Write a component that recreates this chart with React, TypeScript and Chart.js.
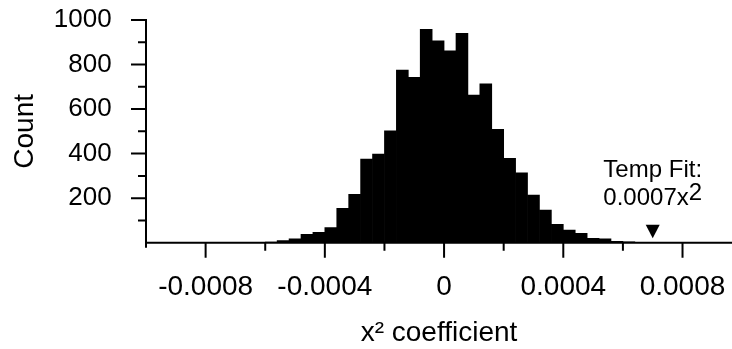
import React, { useEffect, useRef } from 'react';
import { Chart, registerables } from 'chart.js';

Chart.register(...registerables);

// Histogram bins (bin centres, bin width 0.00004) and counts
const BIN_CENTERS = [
  -0.00062, -0.00058, -0.00054, -0.0005, -0.00046, -0.00042, -0.00038, -0.00034,
  -0.0003, -0.00026, -0.00022, -0.00018, -0.00014, -0.0001, -0.00006, -0.00002,
  0.00002, 0.00006, 0.0001, 0.00014, 0.00018, 0.00022, 0.00026, 0.0003,
  0.00034, 0.00038, 0.00042, 0.00046, 0.0005, 0.00054, 0.00058, 0.00062,
  0.00066, 0.0007,
];
const COUNTS = [
  1, 3, 9, 17, 38, 47, 68, 154,
  217, 376, 398, 502, 775, 743, 958, 907,
  862, 940, 663, 713, 509, 379, 314, 214,
  147, 83, 57, 42, 20, 17, 6, 4,
  2, 1,
];

const X_MAJOR_TICKS = [-0.0008, -0.0004, 0, 0.0004, 0.0008];
const X_TICK_LABELS = ['-0.0008', '-0.0004', '0', '0.0004', '0.0008'];
const X_MINOR_TICKS = [-0.0006, -0.0002, 0.0002, 0.0006];
const Y_MAJOR_TICKS = [200, 400, 600, 800, 1000];
const Y_TICK_LABELS = ['200', '400', '600', '800', '1000'];
const Y_MINOR_TICKS = [100, 300, 500, 700, 900];

const X_TITLE = 'x\u00B2 coefficient';
const Y_TITLE = 'Count';

const FIT_VALUE = 0.0007;
const FIT_LABEL_LINE1 = 'Temp Fit:';
const FIT_LABEL_BASE = '0.0007x';
const FIT_LABEL_EXP = '2';

const FONT = '"Liberation Sans", Arial, sans-serif';

const axesPlugin = {
  id: 'refAxes',
  afterDatasetsDraw(chart: any) {
    const { ctx, chartArea: ca, scales } = chart;
    const x = scales.x;
    const y = scales.y;
    ctx.save();
    ctx.strokeStyle = '#000';
    ctx.lineWidth = 2;
    ctx.lineCap = 'butt';
    ctx.beginPath();
    // axis lines
    ctx.moveTo(ca.left, ca.top - 1);
    ctx.lineTo(ca.left, ca.bottom + 5);
    ctx.moveTo(ca.left - 1, ca.bottom);
    ctx.lineTo(ca.right, ca.bottom);
    // x ticks
    X_MAJOR_TICKS.forEach((v) => {
      const px = x.getPixelForValue(v);
      ctx.moveTo(px, ca.bottom);
      ctx.lineTo(px, ca.bottom + 15);
    });
    X_MINOR_TICKS.forEach((v) => {
      const px = x.getPixelForValue(v);
      ctx.moveTo(px, ca.bottom);
      ctx.lineTo(px, ca.bottom + 8);
    });
    // y ticks
    Y_MAJOR_TICKS.forEach((v) => {
      const py = y.getPixelForValue(v);
      ctx.moveTo(ca.left, py);
      ctx.lineTo(ca.left - 15, py);
    });
    Y_MINOR_TICKS.forEach((v) => {
      const py = y.getPixelForValue(v);
      ctx.moveTo(ca.left, py);
      ctx.lineTo(ca.left - 8, py);
    });
    ctx.stroke();

    // fit marker
    const fx = x.getPixelForValue(FIT_VALUE);
    ctx.fillStyle = '#000';
    ctx.beginPath();
    ctx.moveTo(fx - 7, ca.bottom - 18);
    ctx.lineTo(fx + 7, ca.bottom - 18);
    ctx.lineTo(fx, ca.bottom - 4.5);
    ctx.closePath();
    ctx.fill();

    // fit label
    ctx.font = `24px ${FONT}`;
    ctx.textBaseline = 'alphabetic';
    ctx.textAlign = 'center';
    ctx.fillText(FIT_LABEL_LINE1, fx, ca.bottom - 66);
    const wBase = ctx.measureText(FIT_LABEL_BASE).width;
    const wExp = ctx.measureText(FIT_LABEL_EXP).width;
    const startX = fx - (wBase + wExp) / 2;
    ctx.textAlign = 'left';
    ctx.fillText(FIT_LABEL_BASE, startX, ca.bottom - 38);
    ctx.fillText(FIT_LABEL_EXP, startX + wBase, ca.bottom - 43);
    ctx.restore();
  },
};

const zeroPadding = (s: any) => {
  s.paddingTop = 0;
  s.paddingBottom = 0;
  s.paddingLeft = 0;
  s.paddingRight = 0;
};

export default function App() {
  const canvasRef = useRef<HTMLCanvasElement | null>(null);

  useEffect(() => {
    document.body.style.margin = '0';
    const canvas = canvasRef.current;
    if (!canvas) return;
    const chart = new Chart(canvas, {
      type: 'bar',
      data: {
        datasets: [
          {
            data: BIN_CENTERS.map((c, i) => ({ x: c, y: COUNTS[i] })),
            backgroundColor: '#000',
            borderWidth: 0,
            barPercentage: 1,
            categoryPercentage: 1,
          },
        ],
      },
      options: {
        responsive: false,
        animation: false,
        layout: { padding: { top: 20, left: 0, right: 0, bottom: 0 } },
        plugins: {
          legend: { display: false },
          tooltip: { enabled: false },
        },
        scales: {
          x: {
            type: 'linear',
            min: -0.001,
            max: 0.000966,
            offset: false,
            grid: { display: false, drawTicks: false },
            border: { display: false },
            afterBuildTicks: (s: any) => {
              s.ticks = X_MAJOR_TICKS.map((v) => ({ value: v }));
            },
            afterFit: (s: any) => {
              s.height = 106.3;
              zeroPadding(s);
            },
            ticks: {
              padding: 28,
              color: '#000',
              autoSkip: false,
              maxRotation: 0,
              font: { family: FONT, size: 28 },
              callback: (_v: any, i: number) => X_TICK_LABELS[i],
            },
            title: {
              display: true,
              text: X_TITLE,
              color: '#000',
              padding: 0,
              font: { family: FONT, size: 28, lineHeight: 1.1 },
            },
          },
          y: {
            min: 0,
            max: 1000,
            grid: { display: false, drawTicks: false },
            border: { display: false },
            afterBuildTicks: (s: any) => {
              s.ticks = Y_MAJOR_TICKS.map((v) => ({ value: v }));
            },
            afterFit: (s: any) => {
              s.width = 146;
              zeroPadding(s);
            },
            ticks: {
              padding: 34.3,
              color: '#000',
              autoSkip: false,
              font: { family: FONT, size: 26 },
              callback: (_v: any, i: number) => Y_TICK_LABELS[i],
            },
            title: {
              display: true,
              text: Y_TITLE,
              color: '#000',
              padding: { top: 8.5, bottom: 0 },
              font: { family: FONT, size: 28 },
            },
          },
        },
      } as any,
      plugins: [axesPlugin],
    });
    return () => chart.destroy();
  }, []);

  return (
    <div style={{ width: 732, height: 349 }}>
      <canvas ref={canvasRef} width={732} height={349} style={{ display: 'block' }} />
    </div>
  );
}
